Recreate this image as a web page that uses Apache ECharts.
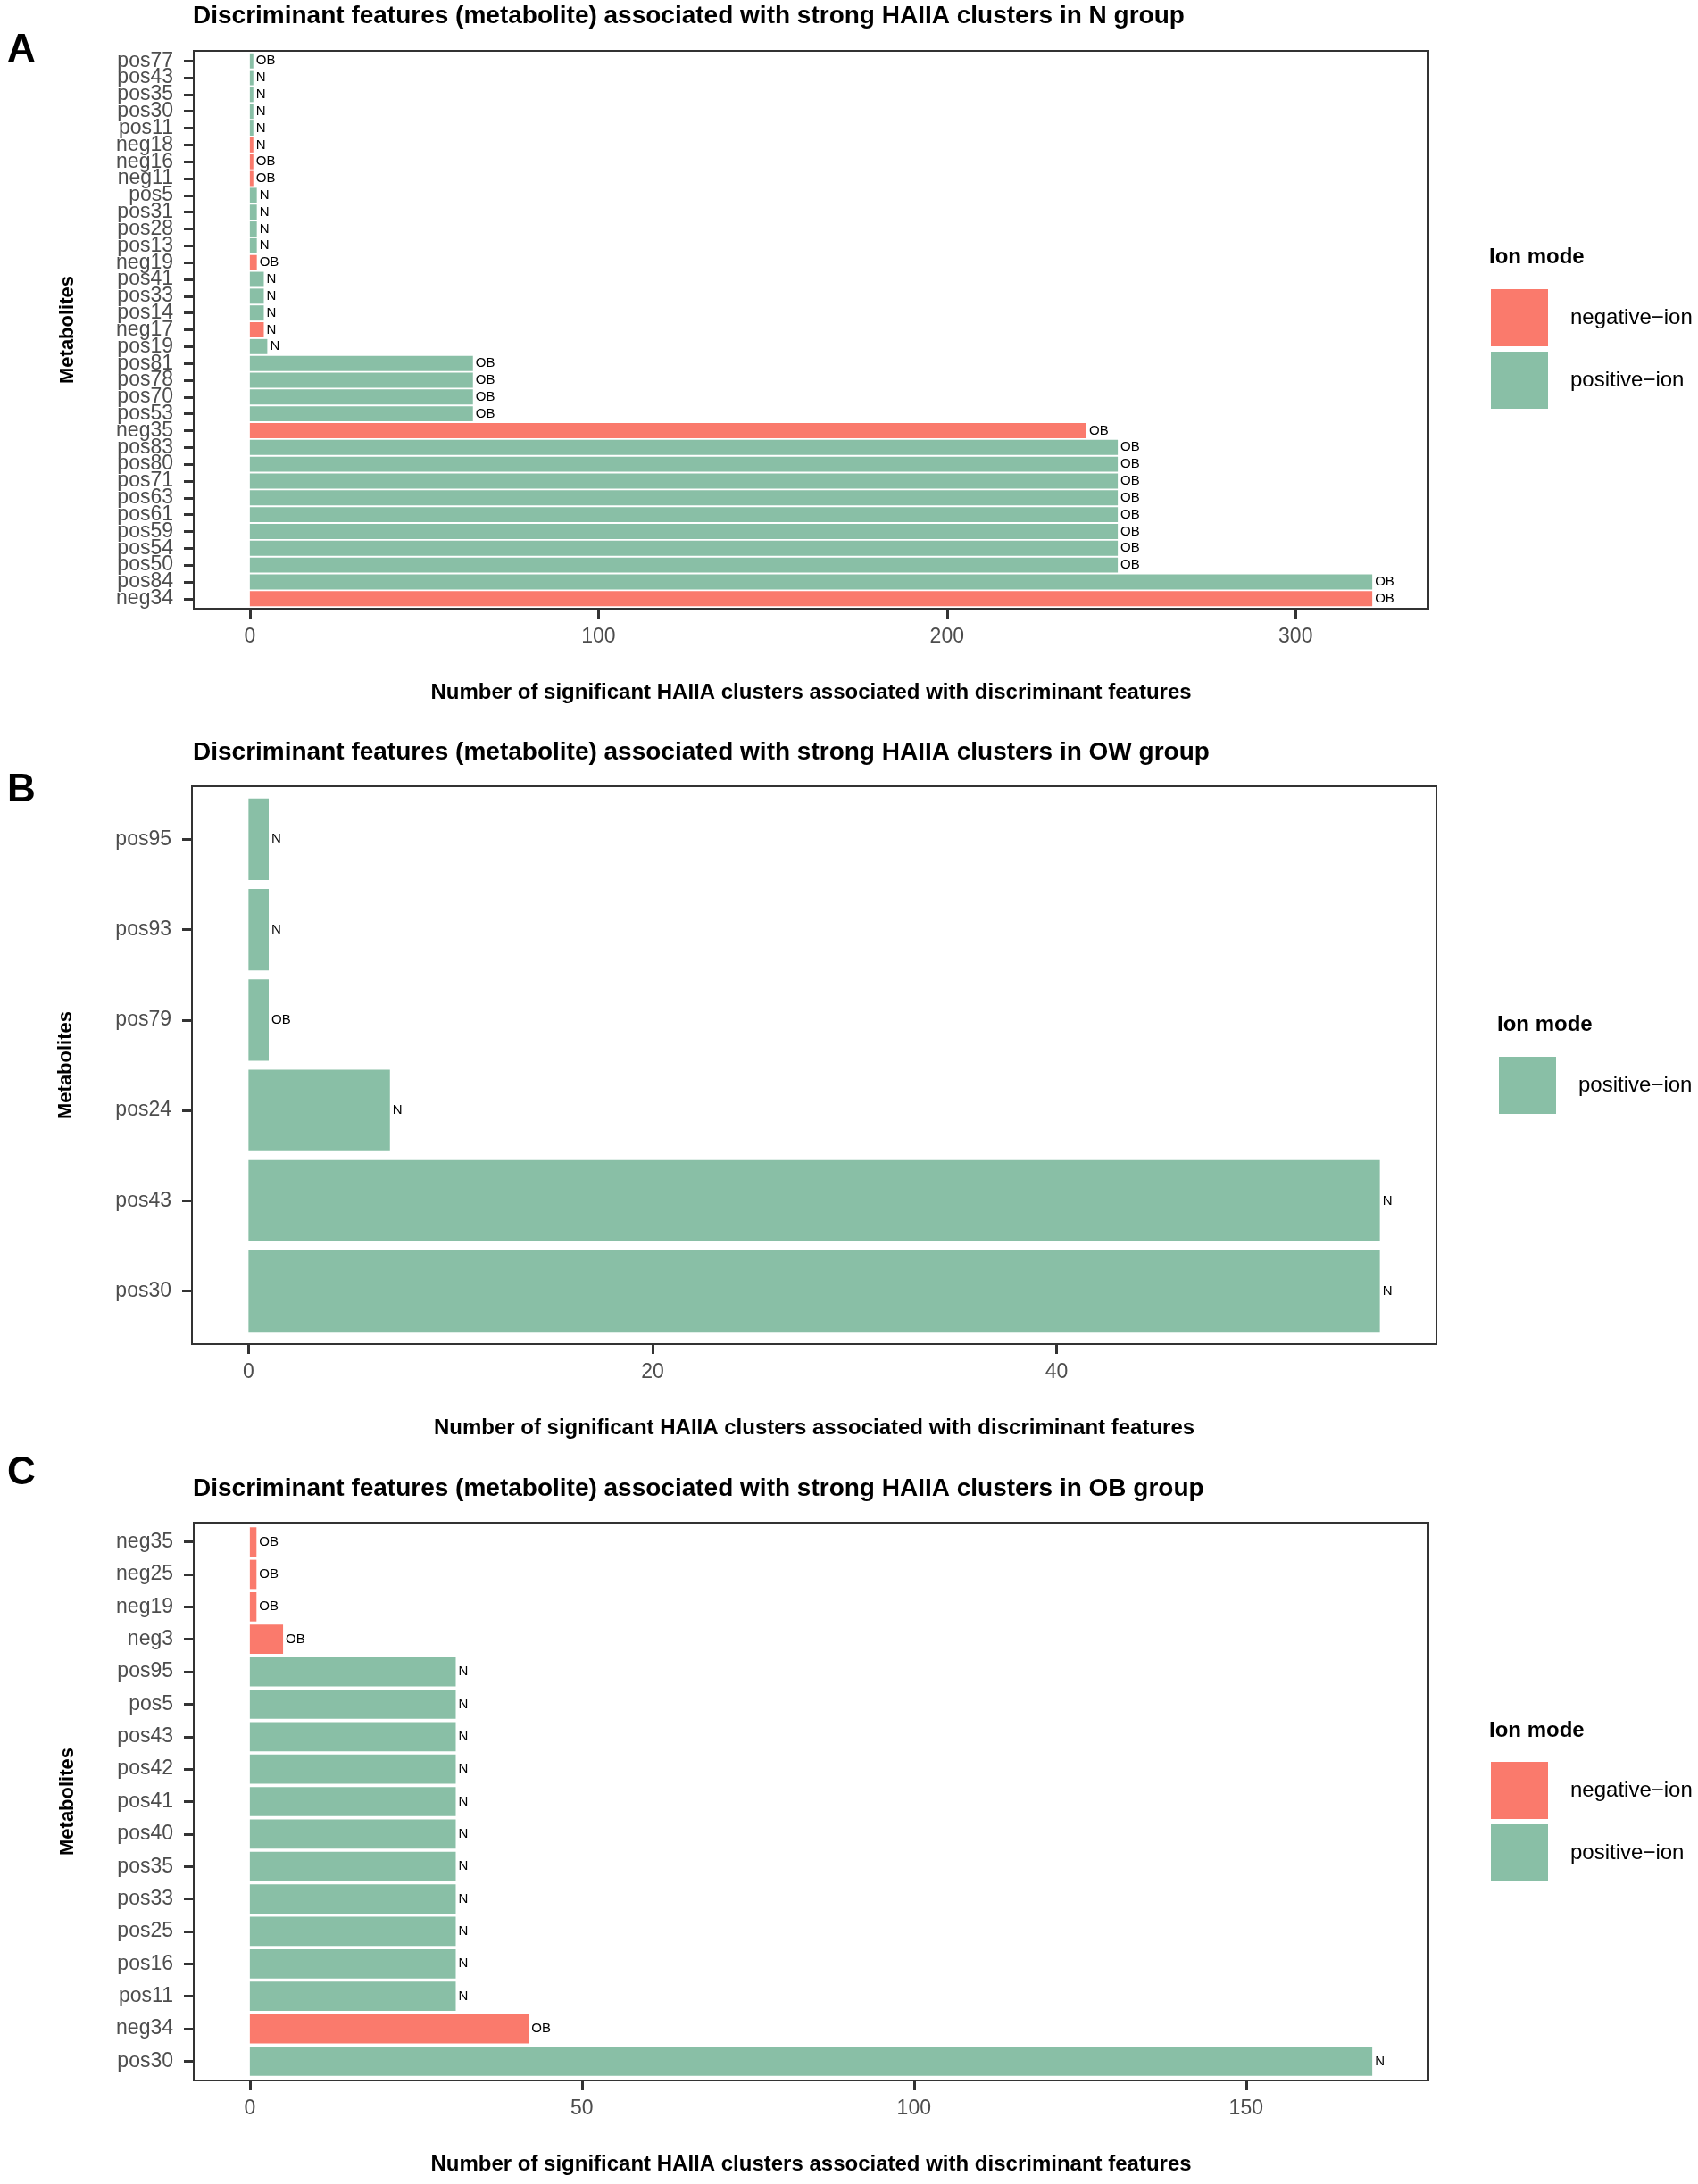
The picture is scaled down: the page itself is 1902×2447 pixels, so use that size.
<!DOCTYPE html>
<html>
<head>
<meta charset="utf-8">
<title>Discriminant features (metabolite)</title>
<script src="https://cdn.jsdelivr.net/npm/echarts@6/dist/echarts.min.js"></script>
<style>
    html, body { margin: 0; padding: 0; background: #fff; }
    #chart { width: 1902px; height: 2447px; }
</style>
</head>
<body>
<div id="chart"></div>
<script>
// panel A - N group (top to bottom)
var catsA = ['pos77', 'pos43', 'pos35', 'pos30', 'pos11', 'neg18', 'neg16', 'neg11', 'pos5', 'pos31', 'pos28',
    'pos13', 'neg19', 'pos41', 'pos33', 'pos14', 'neg17', 'pos19', 'pos81', 'pos78', 'pos70', 'pos53', 'neg35',
    'pos83', 'pos80', 'pos71', 'pos63', 'pos61', 'pos59', 'pos54', 'pos50', 'pos84', 'neg34'];
var valsA = [1, 1, 1, 1, 1, 1, 1, 1, 2, 2, 2, 2, 2, 4, 4, 4, 4, 5, 64, 64, 64, 64, 240,
    249, 249, 249, 249, 249, 249, 249, 249, 322, 322];
var groupA = ['OB', 'N', 'N', 'N', 'N', 'N', 'OB', 'OB', 'N', 'N', 'N', 'N', 'OB', 'N', 'N', 'N', 'N', 'N',
    'OB', 'OB', 'OB', 'OB', 'OB', 'OB', 'OB', 'OB', 'OB', 'OB', 'OB', 'OB', 'OB', 'OB', 'OB'];
var ticksA = [0, 100, 200, 300];

// panel B - OW group
var catsB = ['pos95', 'pos93', 'pos79', 'pos24', 'pos43', 'pos30'];
var valsB = [1, 1, 1, 7, 56, 56];
var groupB = ['N', 'N', 'OB', 'N', 'N', 'N'];
var ticksB = [0, 20, 40];

// panel C - OB group
var catsC = ['neg35', 'neg25', 'neg19', 'neg3', 'pos95', 'pos5', 'pos43', 'pos42', 'pos41', 'pos40', 'pos35',
    'pos33', 'pos25', 'pos16', 'pos11', 'neg34', 'pos30'];
var valsC = [1, 1, 1, 5, 31, 31, 31, 31, 31, 31, 31, 31, 31, 31, 31, 42, 169];
var groupC = ['OB', 'OB', 'OB', 'OB', 'N', 'N', 'N', 'N', 'N', 'N', 'N', 'N', 'N', 'N', 'N', 'OB', 'N'];
var ticksC = [0, 50, 100, 150];

var FONT = '"Liberation Sans", Arial, Helvetica, sans-serif';
var RED = '#FA7A6C', GREEN = '#89BFA6';
var NEG = 'negative\u2212ion', POS = 'positive\u2212ion';
var XNAME = 'Number of significant HAIIA clusters associated with discriminant features';

var panels = [
    {letter: 'A', letterY: 57, cats: catsA, vals: valsA, groups: groupA, ticks: ticksA,
        box: [217, 57, 1383, 625], titleY: 18,
        title: 'Discriminant features (metabolite) associated with strong HAIIA clusters in N group',
        legend: {x: 1670, y: 324, titleY: 288, items: [NEG, POS]}},
    {letter: 'B', letterY: 886, cats: catsB, vals: valsB, groups: groupB, ticks: ticksB,
        box: [215, 881, 1394, 625], titleY: 843,
        title: 'Discriminant features (metabolite) associated with strong HAIIA clusters in OW group',
        legend: {x: 1679, y: 1184, titleY: 1148, items: [POS]}},
    {letter: 'C', letterY: 1651, cats: catsC, vals: valsC, groups: groupC, ticks: ticksC,
        box: [217, 1706, 1383, 625], titleY: 1668,
        title: 'Discriminant features (metabolite) associated with strong HAIIA clusters in OB group',
        legend: {x: 1670, y: 1974, titleY: 1939, items: [NEG, POS]}}
];

function isNeg(name) {
    return name.indexOf('neg') === 0;
}

var option = {
    animation: false,
    backgroundColor: '#fff',
    textStyle: {fontFamily: FONT},
    title: [], legend: [], grid: [], xAxis: [], yAxis: [], series: []
};

var tickStyle = {color: '#333', width: 3};

panels.forEach(function (P, i) {
    var b = P.box, n = P.cats.length;
    var top = Math.max.apply(null, P.vals);
    // ggplot style expansion: 5% on the value axis, 0.6 of a band on the discrete axis
    var xmin = -0.05 * top, xmax = 1.05 * top;
    var inset = b[3] / (n + 1.2) * 0.1;
    var outer = 2 * i, inner = 2 * i + 1;

    option.title.push({
        text: P.letter, left: 8, top: P.letterY - 22, padding: 0,
        textStyle: {fontSize: 44, fontWeight: 'bold', color: '#000', fontFamily: FONT}
    });
    option.title.push({
        text: P.title, left: 216, top: P.titleY - 14, padding: 0,
        textStyle: {fontSize: 28, fontWeight: 'bold', color: '#000', fontFamily: FONT}
    });
    option.title.push({
        text: 'Ion mode', left: P.legend.x - 2, top: P.legend.titleY - 12, padding: 0,
        textStyle: {fontSize: 24, fontWeight: 'bold', color: '#000', fontFamily: FONT}
    });

    option.legend.push({
        data: P.legend.items, orient: 'vertical', left: P.legend.x, top: P.legend.y, padding: 0,
        icon: 'rect', itemWidth: 64, itemHeight: 64, itemGap: 6, selectedMode: false,
        textStyle: {fontSize: 24, color: '#000', fontFamily: FONT, padding: [0, 0, 0, 20]}
    });

    // outer grid: panel border + value axis; inner grid: bars inset by 0.1 band (ggplot 0.6 expansion)
    option.grid.push({
        left: b[0], top: b[1], width: b[2], height: b[3], show: true,
        borderColor: '#333', borderWidth: 2, backgroundColor: 'transparent'
    });
    option.grid.push({left: b[0], top: b[1] + inset, width: b[2], height: b[3] - 2 * inset});

    option.xAxis.push({
        gridIndex: outer, type: 'value', position: 'bottom', min: xmin, max: xmax,
        name: XNAME, nameLocation: 'middle', nameGap: 82,
        nameTextStyle: {fontSize: 24, fontWeight: 'bold', color: '#000', fontFamily: FONT},
        axisLine: {show: false, onZero: false},
        axisTick: {show: true, length: 11, customValues: P.ticks, lineStyle: tickStyle},
        axisLabel: {customValues: P.ticks, margin: 20, fontSize: 23, color: '#4D4D4D', fontFamily: FONT},
        splitLine: {show: false}
    });
    option.xAxis.push({
        gridIndex: inner, type: 'value', min: xmin, max: xmax, show: false,
        axisLine: {show: false, onZero: false}, axisTick: {show: false}, splitLine: {show: false}
    });

    option.yAxis.push({gridIndex: outer, type: 'value', min: 0, max: 1, show: false, axisLine: {onZero: false}});
    option.yAxis.push({
        gridIndex: inner, type: 'category', position: 'left', data: P.cats, inverse: true,
        name: 'Metabolites', nameLocation: 'middle', nameGap: 130, nameRotate: 90,
        nameTextStyle: {fontSize: 22, fontWeight: 'bold', color: '#000', fontFamily: FONT},
        axisLine: {show: false, onZero: false},
        axisTick: {show: true, alignWithLabel: true, length: 11, lineStyle: tickStyle},
        axisLabel: {interval: 0, margin: 23, fontSize: 23, color: '#4D4D4D', fontFamily: FONT},
        splitLine: {show: false}
    });

    // one bar series per panel, coloured by ion mode; empty named series feed the legend
    option.series.push({
        name: 'bars' + i, type: 'bar', xAxisIndex: inner, yAxisIndex: inner, stack: 'p' + i,
        barCategoryGap: '10%',
        label: {
            show: true, position: 'right', distance: 3, fontSize: 15, color: '#000', fontFamily: FONT,
            formatter: function (p) { return P.groups[p.dataIndex]; }
        },
        data: P.vals.map(function (v, k) {
            return {value: v, itemStyle: {color: isNeg(P.cats[k]) ? RED : GREEN}};
        })
    });
    [[NEG, RED], [POS, GREEN]].forEach(function (s) {
        option.series.push({
            name: s[0], type: 'bar', xAxisIndex: inner, yAxisIndex: inner, stack: 'p' + i,
            itemStyle: {color: s[1]}, data: []
        });
    });
});

var chart = echarts.init(document.getElementById('chart'));
chart.setOption(option);
</script>
</body>
</html>
